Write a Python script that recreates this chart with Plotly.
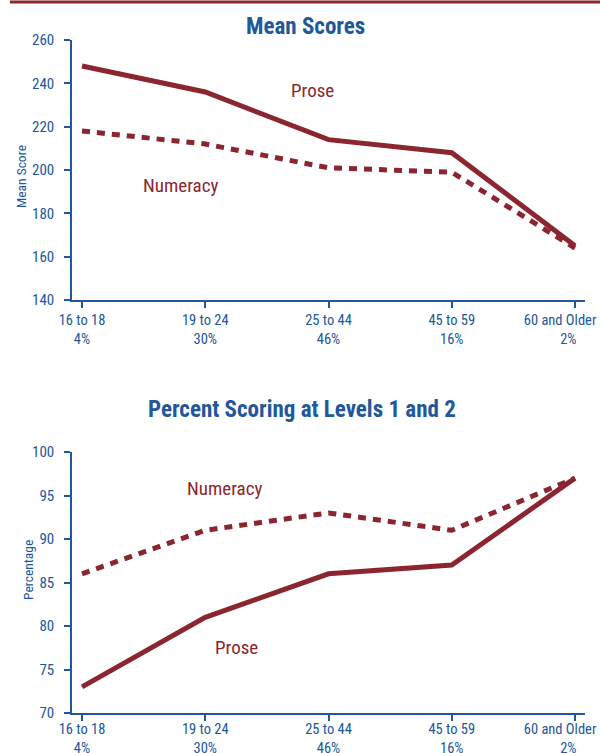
import plotly.graph_objects as go

categories = ["16 to 18", "19 to 24", "25 to 44", "45 to 59", "60 and Older"]
shares = ["4%", "30%", "46%", "16%", "2%"]
mean_prose = [248, 236, 214, 208, 165]
mean_numeracy = [218, 212, 201, 199, 164]
pct_prose = [73, 81, 86, 87, 97]
pct_numeracy = [86, 91, 93, 91, 97]

RED = "#8B2630"
BLUE = "#21579B"
FONT = "Liberation Sans Narrow, Roboto Condensed, Arial Narrow, Liberation Sans, sans-serif"

x_idx = list(range(len(categories)))
ticktext = []
for i, (c, s) in enumerate(zip(categories, shares)):
    if i == len(categories) - 1:
        ticktext.append(f"{c}{'&nbsp;' * 9}<br>{s}{'&nbsp;' * 4}")
    else:
        ticktext.append(f"{c}<br>{s}")

fig = go.Figure()
fig.add_trace(go.Scatter(x=x_idx, y=mean_prose, mode="lines", line=dict(color=RED, width=5),
                         xaxis="x", yaxis="y", showlegend=False))
fig.add_trace(go.Scatter(x=x_idx, y=mean_numeracy, mode="lines", line=dict(color=RED, width=5, dash="8px,7px"),
                         xaxis="x", yaxis="y", showlegend=False))
fig.add_trace(go.Scatter(x=x_idx, y=pct_prose, mode="lines", line=dict(color=RED, width=5),
                         xaxis="x2", yaxis="y2", showlegend=False))
fig.add_trace(go.Scatter(x=x_idx, y=pct_numeracy, mode="lines", line=dict(color=RED, width=5, dash="8px,7px"),
                         xaxis="x2", yaxis="y2", showlegend=False))

W, H = 600, 753
xdom = [72 / W, 585 / W]
xr = [-(82 - 72) / 123.25, 4 + (585 - 575) / 123.25]

xaxis_common = dict(range=xr, tickmode="array", tickvals=x_idx, ticktext=ticktext,
                    showline=True, linecolor=BLUE, linewidth=1.5, ticks="outside", ticklen=6,
                    tickcolor=BLUE, tickwidth=1.5, showgrid=False, zeroline=False, automargin=False,
                    ticklabeloverflow="allow",
                    tickfont=dict(family=FONT, size=14.5, color=BLUE), fixedrange=True)
yaxis_common = dict(showline=True, linecolor=BLUE, linewidth=1.5, ticks="outside", ticklen=6,
                    tickcolor=BLUE, tickwidth=1.5, showgrid=False, zeroline=False, automargin=False,
                    tickfont=dict(family=FONT, size=15, color=BLUE), ticklabelstandoff=7, fixedrange=True)

fig.update_layout(
    width=W, height=H, margin=dict(l=0, r=0, t=0, b=0, autoexpand=False),
    paper_bgcolor="white", plot_bgcolor="white",
    xaxis=dict(domain=xdom, anchor="y", ticklabelstandoff=0, **xaxis_common),
    yaxis=dict(domain=[1 - 300 / H, 1 - 40 / H], anchor="x", range=[140, 260], dtick=20, **yaxis_common),
    xaxis2=dict(domain=xdom, anchor="y2", ticklabelstandoff=-4, **xaxis_common),
    yaxis2=dict(domain=[1 - 713 / H, 1 - 452 / H], anchor="x2", range=[70, 100], dtick=5, **yaxis_common),
    font=dict(family=FONT, color=BLUE),
)

def px_ann(x, y, text, size, color, bold=False, angle=0):
    fig.add_annotation(x=x / W, y=1 - y / H, xref="paper", yref="paper", text=f"<b>{text}</b>" if bold else text,
                       showarrow=False, textangle=angle, xanchor="center", yanchor="middle",
                       font=dict(family=FONT, size=size, color=color))

px_ann(305, 27, "Mean Scores", 23, BLUE, bold=True)
px_ann(302, 410, "Percent Scoring at Levels 1 and 2", 23, BLUE, bold=True)
px_ann(21, 177, "Mean Score", 13.5, BLUE, angle=-90)
px_ann(28, 570, "Percentage", 13.5, BLUE, angle=-90)
px_ann(312, 90, "Prose", 19, RED)
px_ann(180, 185, "Numeracy", 19, RED)
px_ann(224, 488, "Numeracy", 19, RED)
px_ann(236, 647, "Prose", 19, RED)

fig.add_shape(type="line", xref="paper", yref="paper", x0=10 / W, x1=1, y0=1 - 2 / H, y1=1 - 2 / H,
              line=dict(color=RED, width=3))

fig.write_html("out.html", config={"displayModeBar": False},
               post_script="document.body.style.margin='0';document.body.style.overflow='hidden';")
